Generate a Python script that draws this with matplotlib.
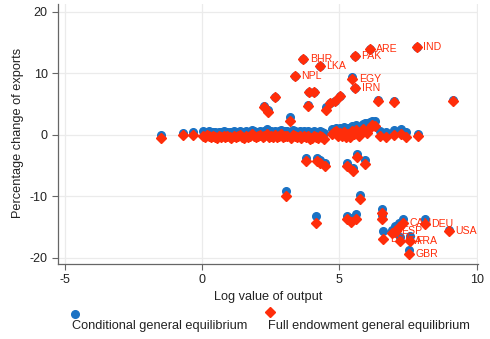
import matplotlib
matplotlib.use("Agg")
import matplotlib.pyplot as plt
from matplotlib.lines import Line2D

plt.rcParams['font.family'] = ['Liberation Sans', 'DejaVu Sans']
plt.rcParams['axes.unicode_minus'] = False

# ---- data ----
# near-zero band
band_x = [-1.51, -0.69, -0.33, 0.02, 0.10, 0.18, 0.26, 0.33, 0.40, 0.48, 0.55, 0.62,
          0.70, 0.78, 0.85, 0.92, 1.00, 1.07, 1.15, 1.22, 1.30, 1.37, 1.45, 1.52,
          1.60, 1.67, 1.75, 1.82, 1.90, 1.97, 2.05, 2.12, 2.20, 2.27, 2.35, 2.42,
          2.50, 2.57, 2.65, 2.72, 2.80, 2.87, 2.95, 3.02, 3.10, 3.25, 3.32,
          3.40, 3.47, 3.55, 3.62, 3.70, 3.77, 3.85, 3.92, 4.00, 4.07, 4.15, 4.22,
          4.30, 4.37, 4.45, 4.72, 4.80, 4.87, 4.95, 5.02, 5.10, 5.17, 5.25, 5.32,
          5.40, 5.47, 5.55, 5.62, 5.70, 5.77, 5.85, 5.92, 6.00, 6.10, 6.20, 6.30,
          6.47, 6.71, 6.99, 7.26, 7.44, 7.86]
band_cge = [0.0, 0.3, 0.5, 0.6, 0.5, 0.4, 0.6, 0.3, 0.5, 0.4, 0.2, 0.5,
            0.4, 0.6, 0.3, 0.5, 0.4, 0.3, 0.6, 0.5, 0.4, 0.7, 0.5, 0.3,
            0.6, 0.4, 0.5, 0.8, 0.6, 0.4, 0.5, 0.7, 0.4, 0.6, 0.9, 0.5,
            0.6, 0.4, 0.7, 0.5, 0.6, 0.8, 0.5, 0.7, 0.6, 0.4, 0.8,
            0.6, 0.5, 0.7, 0.4, 0.6, 0.5, 0.7, 0.4, 0.3, 0.6, 0.5, 0.4,
            0.6, 0.5, 0.3, 0.9, 1.0, 1.2, 0.8, 1.1, 1.0, 1.3, 0.9, 1.1,
            0.8, 1.4, 1.2, 1.6, 1.0, 1.3, 1.7, 2.0, 1.9, 2.1, 2.3, 2.2,
            0.6, 0.5, 0.8, 0.9, 0.4, 0.1]
band_full = [-0.45, -0.05, 0.0, -0.1, -0.3, 0.0, -0.2, -0.4, -0.1, -0.3, -0.5, -0.2,
             -0.3, -0.1, -0.4, -0.2, -0.3, -0.5, -0.1, -0.3, -0.2, 0.0, -0.3, -0.5,
             -0.1, -0.4, -0.2, 0.1, -0.1, -0.3, -0.2, 0.0, -0.4, -0.1, 0.2, -0.3,
             -0.2, -0.4, 0.0, -0.3, -0.1, 0.1, -0.3, -0.1, -0.2, -0.5, 0.0,
             -0.2, -0.4, -0.1, -0.5, -0.2, -0.3, -0.1, -0.6, -0.5, -0.2, -0.3, -0.5,
             -0.2, -0.3, -0.6, 0.2, 0.4, 0.6, -0.2, 0.3, -0.1, 0.5, -0.3, 0.2,
             -0.4, 0.6, 0.1, 0.8, -0.2, 0.4, 0.9, 0.7, 0.3, 1.2, 1.6, 1.5,
             -0.2, -0.3, 0.0, 0.1, -0.3, -0.2]

# unlabeled points away from zero
oth_x = [3.90, 4.08, 3.85, 4.65, 4.83, 5.04, 4.53, 6.41, 6.99, 9.15, 3.19, 2.25, 2.41, 2.65,
         3.77, 4.19, 4.31, 4.47, 5.29, 5.50, 5.64, 5.95, 3.07, 4.14, 5.75, 5.26, 5.44, 5.62,
         6.57, 6.57, 7.19, 7.08, 6.90]
oth_cge = [7.0, 7.0, 4.8, 5.2, 5.6, 6.4, 4.6, 5.7, 5.5, 5.7, 2.9, 4.7, 4.0, 6.1,
           -3.8, -3.7, -4.1, -4.5, -4.6, -5.4, -3.1, -4.1, -9.2, -13.2, -9.8, -13.2, -13.5, -12.9,
           -12.0, -13.0, -14.3, -15.2, -15.5]
oth_full = [7.0, 7.0, 4.77, 5.15, 5.53, 6.4, 4.07, 5.58, 5.37, 5.58, 2.2, 4.6, 3.7, 6.1,
            -4.3, -4.2, -4.5, -5.0, -5.0, -5.85, -3.6, -4.8, -9.9, -14.3, -10.4, -13.7, -14.1, -13.7,
            -12.7, -13.6, -14.9, -15.7, -16.0]

# labeled countries
lab_names = ["IND", "ARE", "PAK", "BHR", "LKA", "NPL", "EGY", "IRN",
             "DEU", "USA", "GBR", "FRA", "CAN", "ESP", "ITA", "BRA"]
lab_x = [7.82, 6.10, 5.56, 3.68, 4.28, 3.37, 5.46, 5.58,
         8.11, 8.99, 7.54, 7.56, 7.32, 7.01, 7.20, 6.59]
lab_cge = [14.3, 13.9, 12.85, 12.36, 11.2, 9.6, 9.5, 7.64,
           -13.7, -15.4, -18.7, -16.5, -13.7, -14.8, -16.6, -15.7]
lab_full = [14.3, 13.9, 12.85, 12.36, 11.2, 9.6, 9.05, 7.64,
            -14.5, -15.7, -19.4, -17.3, -14.4, -15.6, -17.3, -16.9]

x_ticks = [-5, 0, 5, 10]
y_ticks = [-20, -10, 0, 10, 20]

blue = '#1a72c4'
red = '#ff2d0a'

fig = plt.figure(figsize=(4.9, 3.39), dpi=100)
ax = fig.add_axes([58/490, 1-264/339, (478-58)/490, 260/339])

ax.set_xlim(-5.25, 10.05)
ax.set_ylim(-21.0, 21.3)
ax.set_xticks(x_ticks)
ax.set_yticks(y_ticks)
ax.grid(True, color='#ebebeb', linewidth=0.9)
ax.set_axisbelow(True)
for s in ['top', 'right']:
    ax.spines[s].set_visible(False)
for s in ['left', 'bottom']:
    ax.spines[s].set_color('#666666')
    ax.spines[s].set_linewidth(0.9)
ax.tick_params(direction='out', length=4, width=0.8, color='#666666',
               labelsize=9, labelcolor='#222222')

all_x = band_x + oth_x + lab_x
all_cge = band_cge + oth_cge + lab_cge
all_full = band_full + oth_full + lab_full

ax.plot(all_x, all_cge, 'o', color=blue, ms=5.5, mec=blue, ls='none', zorder=3)
ax.plot(all_x, all_full, 'D', color=red, ms=5.3, mec=red, ls='none', zorder=4)

for n, x, y in zip(lab_names, lab_x, lab_full):
    ax.annotate(n, (x, y), xytext=(4.8, 0), textcoords='offset points',
                color=red, fontsize=7.6, va='center', ha='left', zorder=5)

ax.set_xlabel('Log value of output', fontsize=9.2, color='#222222', labelpad=3)
fig.text(18/490, 1-133/339, 'Percentage change of exports', rotation=90,
         fontsize=9.2, color='#222222', ha='center', va='center')

# legend
fig.add_artist(Line2D([75/490], [1-314/339], marker='o', color=blue, ms=5.5,
                      ls='none', transform=fig.transFigure))
fig.add_artist(Line2D([270/490], [1-312/339], marker='D', color=red, ms=5.3,
                      ls='none', transform=fig.transFigure))
fig.text(72/490, 1-326/339, 'Conditional general equilibrium', fontsize=9.2,
         color='#222222', ha='left', va='center')
fig.text(268/490, 1-326/339, 'Full endowment general equilibrium', fontsize=9.2,
         color='#222222', ha='left', va='center')

fig.savefig('out.png', dpi=100)
